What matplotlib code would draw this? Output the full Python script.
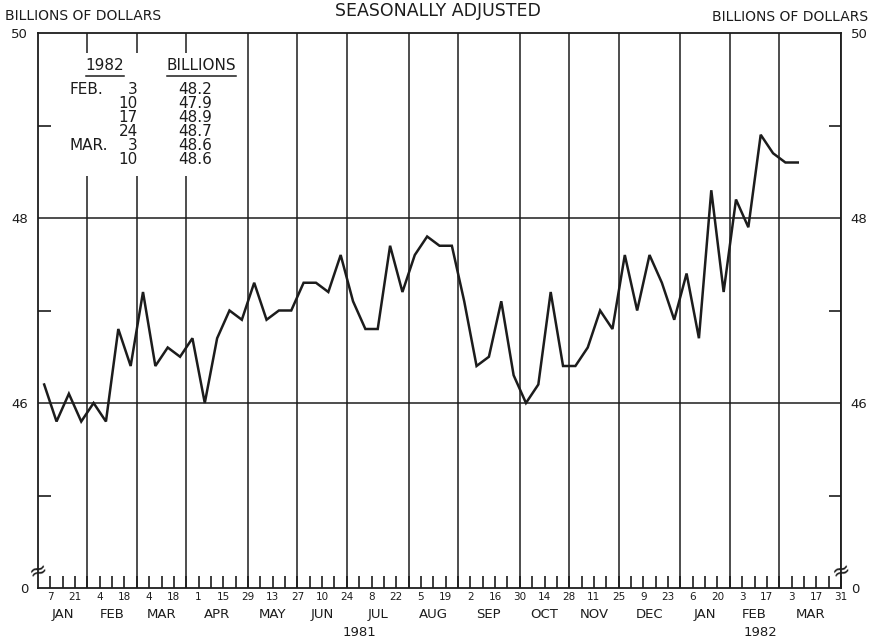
import matplotlib
matplotlib.use("Agg")
import matplotlib.pyplot as plt
import matplotlib.dates as mdates
from matplotlib.patches import Rectangle
from matplotlib.transforms import blended_transform_factory
import pandas as pd

# ---------------- data ----------------
first_week = "1981-01-07"          # weeks ending Wednesday
weekly_values = [
    46.2, 45.8, 46.1, 45.8, 46.0, 45.8, 46.8, 46.4, 47.2, 46.4,
    46.6, 46.5, 46.7, 46.0, 46.7, 47.0, 46.9, 47.3, 46.9, 47.0,
    47.0, 47.3, 47.3, 47.2, 47.6, 47.1, 46.8, 46.8, 47.7, 47.2,
    47.6, 47.8, 47.7, 47.7, 47.1, 46.4, 46.5, 47.1, 46.3, 46.0,
    46.2, 47.2, 46.4, 46.4, 46.6, 47.0, 46.8, 47.6, 47.0, 47.6,
    47.3, 46.9, 47.4, 46.7, 48.3, 47.2, 48.2, 47.9, 48.9, 48.7,
    48.6, 48.6,
]
axis_start = "1980-12-31"
axis_end = "1982-03-31"

y_tick_values = [44, 46, 48, 50]
y_tick_labels = ["0", "46", "48", "50"]
y_minor_values = [45, 47, 49]
y_grid_values = [46, 48]

table_header = ["1982", "BILLIONS"]
table_months = ["FEB.", "", "", "", "MAR.", ""]
table_days = ["3", "10", "17", "24", "3", "10"]
table_values = ["48.2", "47.9", "48.9", "48.7", "48.6", "48.6"]

title_text = "SEASONALLY ADJUSTED"
unit_text = "BILLIONS OF DOLLARS"

# ---------------- figure ----------------
W, H = 871, 641
fig = plt.figure(figsize=(W / 100, H / 100), dpi=100, facecolor="white")
L, R, T, B = 38, 841, 33, 588
ax = fig.add_axes([L / W, 1 - B / H, (R - L) / W, (B - T) / H])
ink = "#1c1c1c"

dates = pd.date_range(first_week, periods=len(weekly_values), freq="7D")
xs = mdates.date2num(dates.to_pydatetime()) - 3.5   # plotted at mid-week
x0 = mdates.date2num(pd.Timestamp(axis_start).to_pydatetime())
x1 = mdates.date2num(pd.Timestamp(axis_end).to_pydatetime())
ax.set_xlim(x0, x1)
ax.set_ylim(44, 50)

# weekly ticks and biweekly labels
wednesdays = pd.date_range(first_week, axis_end, freq="7D")
biweekly = wednesdays[::2]
ax.set_xticks(mdates.date2num(biweekly.to_pydatetime()))
ax.set_xticklabels([str(d.day) for d in biweekly], fontsize=7.5, color=ink)
ax.set_xticks(mdates.date2num(wednesdays.to_pydatetime()), minor=True)
ax.tick_params(axis="x", which="both", direction="in", length=8.5, width=1.2,
               color=ink, bottom=True, top=False, pad=3)

# y ticks
ax.set_yticks(y_tick_values)
ax.set_yticklabels(y_tick_labels, fontsize=9.5, color=ink)
ax.set_yticks(y_minor_values, minor=True)
ax.tick_params(axis="y", which="major", length=0, left=True, right=True,
               labelleft=True, labelright=True, pad=7)
ax.tick_params(axis="y", which="minor", direction="in", length=9, width=1.2,
               color=ink, left=True, right=True)

for s in ax.spines.values():
    s.set_color(ink)
    s.set_linewidth(1.3)

# grid lines
for g in y_grid_values:
    ax.axhline(g, color=ink, lw=1.1, zorder=1)

# month-end (last Wednesday) lines and month labels
wd = pd.Series(wednesdays)
month_ends = wd.groupby([wd.dt.year, wd.dt.month]).max().tolist()
trans = blended_transform_factory(ax.transData, ax.transAxes)
prev = x0
for me in month_ends:
    xm = mdates.date2num(me.to_pydatetime())
    ax.axvline(xm, color=ink, lw=1.1, zorder=1)
    ax.text((prev + xm) / 2, -0.047, me.strftime("%b").upper(), transform=trans,
            ha="center", va="center", fontsize=9.5, color=ink)
    prev = xm

# year labels
years = sorted(set(d.year for d in month_ends))
for yr in years:
    ds = [mdates.date2num(m.to_pydatetime()) for m in month_ends if m.year == yr]
    start = x0 if yr == years[0] else max(mdates.date2num(m.to_pydatetime())
                                          for m in month_ends if m.year == yr - 1)
    ax.text((start + max(ds)) / 2, -0.081, str(yr), transform=trans,
            ha="center", va="center", fontsize=9.5, color=ink)

# series
ax.plot(xs, weekly_values, color=ink, lw=1.8, zorder=3, solid_joinstyle="miter")

# axis-break marks
for xa in (0, 1):
    ax.text(xa, 0.03, "≈", transform=ax.transAxes, ha="center", va="center",
            fontsize=16, rotation=20, color=ink, zorder=5)

# inset table
def ay(y):
    return (B - y) / (B - T)

def axx(x):
    return (x - L) / (R - L)

ax.add_patch(Rectangle((axx(55), ay(176)), axx(242) - axx(55), ay(53) - ay(176),
                       transform=ax.transAxes, facecolor="white",
                       edgecolor="none", zorder=2))
hdr_x = [105, 201.5]
hdrs = []
for hx, h in zip(hdr_x, table_header):
    hdrs.append(ax.text(axx(hx), ay(66), h, transform=ax.transAxes, ha="center",
                        va="center", fontsize=11, color=ink, zorder=4))
row_y0, row_dy = 90, 13.9
for i, (m, d, v) in enumerate(zip(table_months, table_days, table_values)):
    yy = ay(row_y0 + i * row_dy)
    if m:
        ax.text(axx(69), yy, m, transform=ax.transAxes, ha="left", va="center",
                fontsize=11, color=ink, zorder=4)
    ax.text(axx(138), yy, d, transform=ax.transAxes, ha="right", va="center",
            fontsize=11, color=ink, zorder=4)
    ax.text(axx(212), yy, v, transform=ax.transAxes, ha="right", va="center",
            fontsize=11, color=ink, zorder=4)

fig.canvas.draw()
inv = ax.transAxes.inverted()
for t in hdrs:
    bb = t.get_window_extent()
    (ux0, uy), (ux1, _) = inv.transform([(bb.x0, bb.y0 - 2), (bb.x1, bb.y0 - 2)])
    ax.plot([ux0, ux1], [uy, uy], transform=ax.transAxes, color=ink, lw=1.1,
            zorder=4, clip_on=False)

# top texts
fig.text(5 / W, 1 - 16 / H, unit_text, ha="left", va="center", fontsize=10, color=ink)
fig.text(868 / W, 1 - 17 / H, unit_text, ha="right", va="center", fontsize=10, color=ink)
fig.text(438 / W, 1 - 11 / H, title_text, ha="center", va="center", fontsize=12.5, color=ink)

fig.savefig("out.png", dpi=100, facecolor="white")
